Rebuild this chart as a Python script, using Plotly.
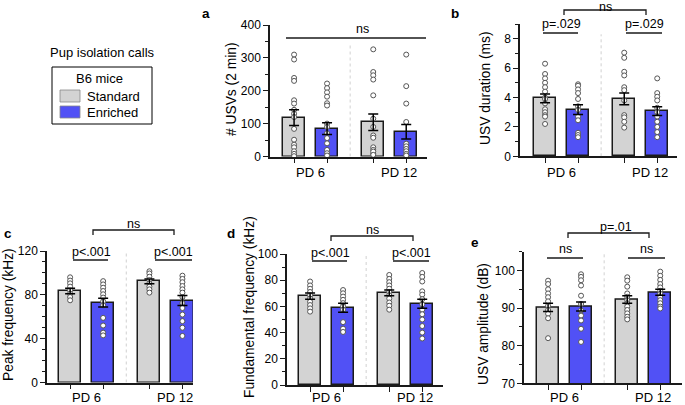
import plotly.graph_objects as go

W, H = 685, 405
FONT = "Liberation Sans, Arial, sans-serif"

conditions = ["Standard", "Enriched"]
groups = ["PD 6", "PD 12"]
bar_x = [0, 1, 2.4, 3.4]  # Std PD6, Enr PD6, Std PD12, Enr PD12
bar_colors = ["#d3d3d3", "#5151f5", "#d3d3d3", "#5151f5"]

# a: number of USVs in 2 min
a_std6 = [310, 295, 239, 230, 171, 161, 142, 130, 120, 84, 51, 36, 28, 16, 8, 1]
a_enr6 = [222, 208, 195, 182, 162, 155, 100, 90, 71, 56, 40, 20, 10, 3]
a_std12 = [326, 257, 247, 234, 186, 115, 90, 64, 57, 28, 20, 8, 15, 5]
a_enr12 = [310, 214, 161, 105, 39, 31, 23, 16, 8, 3]
a_mean = [118, 85, 104, 75]
a_sem = [24, 18, 25, 22]

# b: USV duration (ms)
b_std6 = [6.3, 5.6, 5.3, 5.0, 4.7, 4.4, 4.0, 3.9, 3.6, 3.2, 3.0, 2.8, 2.7, 2.2]
b_enr6 = [4.9, 4.8, 4.55, 4.3, 3.9, 3.4, 3.15, 2.7, 2.45, 1.6, 1.45, 1.3]
b_std12 = [7.05, 6.7, 5.75, 5.5, 4.7, 4.5, 3.8, 2.8, 2.65, 2.35, 1.95]
b_enr12 = [5.3, 4.3, 4.05, 3.8, 3.3, 3.0, 2.7, 2.35, 2.0, 1.65, 1.3]
b_mean = [3.94, 3.18, 3.9, 3.07]
b_sem = [0.3, 0.33, 0.4, 0.3]

# c: peak frequency (kHz)
c_std6 = [96, 93, 90.5, 87.5, 84, 81, 78, 75]
c_enr6 = [92.5, 89.5, 86.5, 83.5, 80.5, 77.5, 74, 70.5, 59, 52, 45.5, 43]
c_std12 = [101.5, 99.5, 96.5, 93.5, 90.5, 87.5, 85, 82]
c_enr12 = [97.5, 94.5, 91.5, 88, 85, 82, 78, 72.5, 68, 62, 56, 50, 42.5]
c_mean = [83.5, 72.8, 92.3, 74.8]
c_sem = [2.5, 4.0, 2.2, 4.5]

# d: fundamental frequency (kHz)
d_std6 = [79, 76, 73.5, 71, 68.5, 66, 63.5, 61, 58.5, 56]
d_enr6 = [72.5, 70, 67.5, 65, 62.5, 60, 57.5, 48, 43, 40.5]
d_std12 = [84, 81, 78.5, 76, 73.5, 71, 68.5, 66, 63, 60.5, 57.5]
d_enr12 = [85.5, 82.5, 79, 71.5, 69, 65.5, 61.5, 57.5, 54, 50, 45, 40, 35.5]
d_mean = [67.8, 59, 70.4, 62]
d_sem = [2.4, 3.4, 2.2, 3.4]

# e: USV amplitude (dB)
e_std6 = [97.3, 96.4, 95, 93.9, 92.9, 91.8, 90.6, 89.5, 88.5, 87.3, 82]
e_enr6 = [99, 98.3, 97.4, 96, 93.3, 91.1, 89.4, 88, 86.7, 84.5, 81]
e_std12 = [98.2, 97.3, 95.7, 93.9, 93, 92.1, 91.3, 90.4, 89.5, 88.6, 87.7, 87]
e_enr12 = [99.7, 98.6, 97.5, 96.4, 95.5, 94.6, 93.8, 92.9, 92.1, 91.3, 90.4, 89.9]
e_mean = [90.2, 90.4, 92.3, 94.2]
e_sem = [1.1, 1.2, 1.0, 0.8]


def px(x):
    return x / W


def py(y):
    return 1 - y / H


# panel boxes in pixels: left, right, top, bottom; ttl = (x, y) centre of the y title
panels = [
    dict(letter="a", pts=[a_std6, a_enr6, a_std12, a_enr12], mean=a_mean, sem=a_sem,
         box=(270, 427, 25, 156.5), yr=[0, 400], dt=100, mdt=50, sep=345,
         title="# USVs (2 min)", ttl=(231, 89), xr=[-0.73, 4.03], lx=(206, 13)),
    dict(letter="b", pts=[b_std6, b_enr6, b_std12, b_enr12], mean=b_mean, sem=b_sem,
         box=(520, 677, 24, 156.3), yr=[0, 9], dt=2, mdt=1, sep=8.3,
         title="USV duration (ms)", ttl=(486, 88), xr=[-0.76, 4.0], lx=(455, 13)),
    dict(letter="c", pts=[c_std6, c_enr6, c_std12, c_enr12], mean=c_mean, sem=c_sem,
         box=(47, 193, 251, 382.5), yr=[0, 120], dt=40, mdt=10, sep=120,
         title="Peak frequency (kHz)", ttl=(8, 315), xr=[-0.7, 3.72], lx=(8, 233)),
    dict(letter="d", pts=[d_std6, d_enr6, d_std12, d_enr12], mean=d_mean, sem=d_sem,
         box=(287, 443, 254, 385), yr=[0, 100], dt=20, mdt=10, sep=100,
         title="Fundamental frequency (kHz)", ttl=(249, 307), xr=[-0.7, 4.03], lx=(231, 233)),
    dict(letter="e", pts=[e_std6, e_enr6, e_std12, e_enr12], mean=e_mean, sem=e_sem,
         box=(524, 682, 251.7, 383.3), yr=[70, 105], dt=10, mdt=5, sep=105,
         title="USV amplitude (dB)", ttl=(483, 324), xr=[-0.73, 4.06], lx=(475, 242)),
]

# significance marks (pixels)
brackets = {
    "a": [("line", 286, 426, 38, "ns", 362, 29)],
    "b": [("brk", 564, 646, 10, 15, "ns", 605, 6.5),
          ("line", 543, 578, 33, "p=.029", 561, 24),
          ("line", 626, 662, 33, "p=.029", 644, 24)],
    "c": [("brk", 93, 174, 230, 235, "ns", 133, 224),
          ("line", 73, 108, 260, "p<.001", 91, 252),
          ("line", 155, 192, 260, "p<.001", 173, 252)],
    "d": [("brk", 331, 413, 236, 241, "ns", 372, 230),
          ("line", 312, 347, 261, "p<.001", 330, 253),
          ("line", 393, 429, 261, "p<.001", 411, 253)],
    "e": [("brk", 568, 649, 233, 238, "p=.01", 616, 227),
          ("line", 547, 583, 258, "ns", 565, 249),
          ("line", 628, 665, 258, "ns", 646, 249)],
}


def label(x, y, text, size=12.5, **kw):
    d = dict(x=px(x), y=py(y), xref="paper", yref="paper", text=text, showarrow=False,
             xanchor="center", yanchor="middle", borderpad=0, font=dict(size=size, color="black"))
    d.update(kw)
    return d


fig = go.Figure()
shapes = []
annos = []
layout = {}

for i, p in enumerate(panels):
    n = i + 1
    xa = "x" if n == 1 else f"x{n}"
    ya = "y" if n == 1 else f"y{n}"
    l, r, t, b = p["box"]

    fig.add_trace(go.Bar(x=bar_x, y=p["mean"], width=0.67, marker_color=bar_colors,
                         marker_line=dict(color="#1a1a1a", width=1.5),
                         xaxis=xa, yaxis=ya, showlegend=False))
    for k in range(4):
        fig.add_trace(go.Scatter(x=[bar_x[k]] * len(p["pts"][k]), y=p["pts"][k], mode="markers",
                                 marker=dict(size=5, color="white", line=dict(color="#555", width=1)),
                                 xaxis=xa, yaxis=ya, showlegend=False, cliponaxis=False))
    fig.add_trace(go.Scatter(x=bar_x, y=p["mean"], mode="markers",
                             marker=dict(size=0.1, color="rgba(0,0,0,0)"),
                             error_y=dict(type="data", array=p["sem"], color="black", thickness=1.5, width=5),
                             xaxis=xa, yaxis=ya, showlegend=False))

    axkey = "xaxis" if n == 1 else f"xaxis{n}"
    aykey = "yaxis" if n == 1 else f"yaxis{n}"
    layout[axkey] = dict(domain=[px(l), px(r)], range=p["xr"], anchor=ya,
                         showline=True, linecolor="#1a1a1a", linewidth=1.5,
                         tickvals=bar_x, ticktext=["", "", "", ""], ticks="outside",
                         ticklen=5, tickwidth=1.2, tickcolor="#1a1a1a", automargin=False,
                         showgrid=False, zeroline=False, fixedrange=True)
    layout[aykey] = dict(domain=[py(b), py(t)], range=p["yr"], anchor=xa,
                         showline=True, linecolor="#1a1a1a", linewidth=1.5,
                         dtick=p["dt"], tick0=p["yr"][0], ticks="outside", ticklen=5, tickwidth=1.2,
                         tickcolor="#1a1a1a", tickfont=dict(size=12, color="black"), automargin=False,
                         minor=dict(dtick=p["mdt"], ticks="outside", ticklen=3, tickcolor="#1a1a1a"),
                         showgrid=False, zeroline=False, fixedrange=True)

    # dotted separator between ages
    shapes.append(dict(type="line", xref=xa, yref=ya, x0=1.7, x1=1.7, y0=p["yr"][0], y1=p["sep"],
                       line=dict(color="#c4c4c4", width=0.8, dash="dot")))

    # group labels under the axis
    gy = min(b + 16, 397)
    for gx, g in zip([0.5, 3.17], groups):
        annos.append(dict(x=gx, y=py(gy), xref=xa, yref="paper", text=g, showarrow=False, borderpad=0,
                          xanchor="center", yanchor="middle", font=dict(size=13, color="black")))

    annos.append(label(p["ttl"][0], p["ttl"][1], p["title"], size=13.8, textangle=-90))
    annos.append(label(p["lx"][0], p["lx"][1], "<b>" + p["letter"] + "</b>", size=13.5))

    for m in brackets[p["letter"]]:
        if m[0] == "line":
            _, x0, x1, yy, lab, lxx, lyy = m
            shapes.append(dict(type="line", xref="paper", yref="paper", x0=px(x0), x1=px(x1),
                               y0=py(yy), y1=py(yy), line=dict(color="#1a1a1a", width=1.3)))
        else:
            _, x0, x1, yt, yb, lab, lxx, lyy = m
            shapes.append(dict(type="path", xref="paper", yref="paper",
                               path=f"M{px(x0)},{py(yb)} L{px(x0)},{py(yt)} L{px(x1)},{py(yt)} L{px(x1)},{py(yb)}",
                               line=dict(color="#1a1a1a", width=1.3)))
        annos.append(label(lxx, lyy, lab))

# legend box
annos.append(label(102, 52, "Pup isolation calls", size=13))
shapes.append(dict(type="rect", xref="paper", yref="paper", x0=px(52), x1=px(152), y0=py(124), y1=py(67),
                   line=dict(color="black", width=1)))
annos.append(label(100, 78, "B6 mice", size=13))
for j, (cond, col) in enumerate(zip(conditions, bar_colors[:2])):
    y0 = 90 + 16 * j
    shapes.append(dict(type="rect", xref="paper", yref="paper", x0=px(60), x1=px(80),
                       y0=py(y0 + 12), y1=py(y0), fillcolor=col, line=dict(color="#888", width=0.8)))
    annos.append(label(86, y0 + 6, cond, size=13, xanchor="left"))

fig.update_layout(width=W, height=H, margin=dict(l=0, r=0, t=0, b=0, pad=0, autoexpand=False),
                  plot_bgcolor="white", paper_bgcolor="white",
                  font=dict(family=FONT, color="black"),
                  shapes=shapes, annotations=annos, bargap=0, **layout)

# drop the browser's default page margin so the figure sits at the window corner
fig.write_html("out.html", config={"displayModeBar": False},
               post_script="document.body.style.margin='0';")
